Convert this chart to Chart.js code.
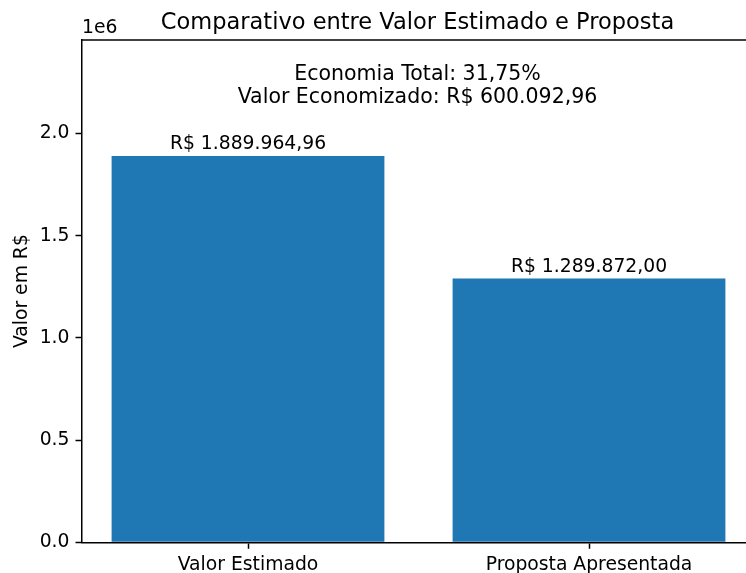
<!DOCTYPE html>
<html>
<head>
<meta charset="utf-8">
<script src="https://cdn.jsdelivr.net/npm/chart.js@4/dist/chart.umd.min.js"></script>
<style>
  html, body { margin: 0; padding: 0; background: #fff; }
  #wrap { width: 746px; height: 573px; }
</style>
</head>
<body>
<div id="wrap"><canvas id="chart" width="746" height="573"></canvas></div>
<script>
// data
const categories = ["Valor Estimado", "Proposta Apresentada"];
const values = [1889964.96, 1289872.0];
const barLabels = ["R$ 1.889.964,96", "R$ 1.289.872,00"];
const yTicks = [0, 500000, 1000000, 1500000, 2000000];
const xTicks = [0, 1];
const chartTitle = "Comparativo entre Valor Estimado e Proposta";
const noteLines = ["Economia Total: 31,75%", "Valor Economizado: R$ 600.092,96"];
const yTitle = "Valor em R$";
const yOffsetText = "1e6";

const FONT = "'DejaVu Sans', sans-serif";

// texts, top spine
const textPlugin = {
  id: "texts",
  afterDraw(chart) {
    const ctx = chart.ctx;
    const area = chart.chartArea;
    const xs = chart.scales.x;
    const mid = xs.getPixelForValue(0.5);
    ctx.save();
    ctx.fillStyle = "#000";

    // top spine
    ctx.strokeStyle = "#000";
    ctx.lineWidth = 1.5;
    ctx.beginPath();
    ctx.moveTo(area.left, area.top);
    ctx.lineTo(area.right, area.top);
    ctx.stroke();

    ctx.textAlign = "center";
    ctx.textBaseline = "alphabetic";
    ctx.font = "22.5px " + FONT;
    ctx.fillText(chartTitle, mid - 1, 29);

    ctx.font = "20.5px " + FONT;
    ctx.fillText(noteLines[0], mid - 1, 80);
    ctx.fillText(noteLines[1], mid - 1, 103);

    // bar labels
    ctx.font = "18.75px " + FONT;
    const meta = chart.getDatasetMeta(0);
    meta.data.forEach((bar, i) => {
      ctx.fillText(barLabels[i], bar.x, bar.y - 7);
    });

    // offset text
    ctx.textAlign = "left";
    ctx.fillText(yOffsetText, area.left, 33);

    // y title
    ctx.translate(27, (area.top + area.bottom) / 2);
    ctx.rotate(-Math.PI / 2);
    ctx.textAlign = "center";
    ctx.fillText(yTitle, 0, 0);
    ctx.restore();
  }
};

const ctx = document.getElementById("chart").getContext("2d");

new Chart(ctx, {
  type: "bar",
  data: {
    datasets: [
      {
        data: values.map((v, i) => ({ x: xTicks[i], y: v })),
        backgroundColor: "#1f77b4",
        borderWidth: 0,
        barPercentage: 0.8,
        categoryPercentage: 1.0,
      },
    ],
  },
  options: {
    responsive: false,
    animation: false,
    devicePixelRatio: 1,
    layout: { padding: { top: 40, right: 0, left: 0, bottom: 0 } },
    plugins: {
      legend: { display: false },
      tooltip: { enabled: false },
      title: { display: false },
    },
    scales: {
      x: {
        type: "linear",
        offset: false,
        min: -0.4868,
        max: 1.4604,
        afterBuildTicks: (scale) => {
          scale.ticks = xTicks.map((v) => ({ value: v }));
        },
        afterFit: (scale) => {
          scale.height = 30.7;
        },
        grid: {
          offset: false,
          drawOnChartArea: false,
          drawTicks: true,
          tickLength: 6.5,
          tickWidth: 1.5,
          tickColor: "#000",
        },
        border: { display: true, color: "#000", width: 1.5 },
        ticks: {
          color: "#000",
          font: { family: FONT, size: 18.75 },
          padding: 5,
          maxRotation: 0,
          autoSkip: false,
          callback: (v, i) => categories[i],
        },
      },
      y: {
        min: 0,
        max: values[0] * 1.3,
        afterBuildTicks: (scale) => {
          scale.ticks = yTicks.map((v) => ({ value: v }));
        },
        afterFit: (scale) => {
          scale.width = 82;
        },
        grid: {
          drawOnChartArea: false,
          drawTicks: true,
          tickLength: 6.5,
          tickWidth: 1.5,
          tickColor: "#000",
        },
        border: { display: true, color: "#000", width: 1.5 },
        ticks: {
          color: "#000",
          font: { family: FONT, size: 18.75 },
          padding: 6,
          callback: (v) => (v / 1e6).toFixed(1),
        },
      },
    },
  },
  plugins: [textPlugin],
});
</script>
</body>
</html>
